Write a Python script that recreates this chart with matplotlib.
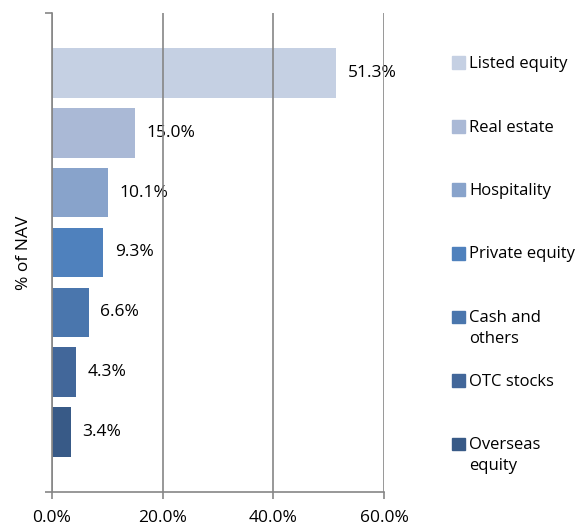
import matplotlib.pyplot as plt
from matplotlib.patches import Rectangle

categories = ["Listed equity", "Real estate", "Hospitality", "Private equity",
              "Cash and\nothers", "OTC stocks", "Overseas\nequity"]
values = [51.3, 15.0, 10.1, 9.3, 6.6, 4.3, 3.4]
colors = ["#c5d0e3", "#aab9d6", "#88a3cb", "#4f81bd", "#4a76ad", "#42679a", "#385a87"]
xticks = [0, 20, 40, 60]

plt.rcParams["font.family"] = ["Open Sans", "DejaVu Sans"]

W, H = 583, 527
fig = plt.figure(figsize=(W / 100, H / 100), dpi=100)
ax = fig.add_axes([52 / W, 35 / H, 332 / W, 479 / H])

y = list(range(len(values)))
ax.barh(y, values, height=0.83, color=colors, zorder=2)
for yi, v in zip(y, values):
    ax.annotate(f"{v:.1f}%", (v, yi), xytext=(8.5, 0), textcoords="offset points",
                va="center", ha="left", fontsize=12.5, color="black", zorder=1)

ax.set_xlim(0, 60)
ax.set_ylim(7, -1)
ax.set_xticks(xticks)
ax.set_xticklabels([f"{t:.1f}%" for t in xticks], fontsize=12.5)
ax.set_yticks([-1, 7])
ax.set_yticklabels(["", ""])
ax.grid(axis="x", color="#868686", linewidth=1.2, zorder=3)
ax.set_axisbelow(False)
for s in ["top", "right"]:
    ax.spines[s].set_visible(False)
for s in ["left", "bottom"]:
    ax.spines[s].set_color("#868686")
    ax.spines[s].set_linewidth(1.2)
ax.tick_params(direction="out", length=5, color="#868686", width=1.2)
ax.tick_params(axis="x", pad=8)
ax.set_ylabel("% of NAV", fontsize=12.5, labelpad=6)

# legend drawn by hand so multi-line labels keep the swatch on the first line
for i, (lab, c) in enumerate(zip(categories, colors)):
    yc = 63 + i * 63.5
    fig.add_artist(Rectangle((452 / W, 1 - (yc + 6) / H), 12.5 / W, 12.5 / H,
                             transform=fig.transFigure, color=c))
    fig.text(469 / W, 1 - (yc - 7) / H, lab, fontsize=12, va="top", ha="left",
             linespacing=1.45)

fig.savefig("out.png", dpi=100)
